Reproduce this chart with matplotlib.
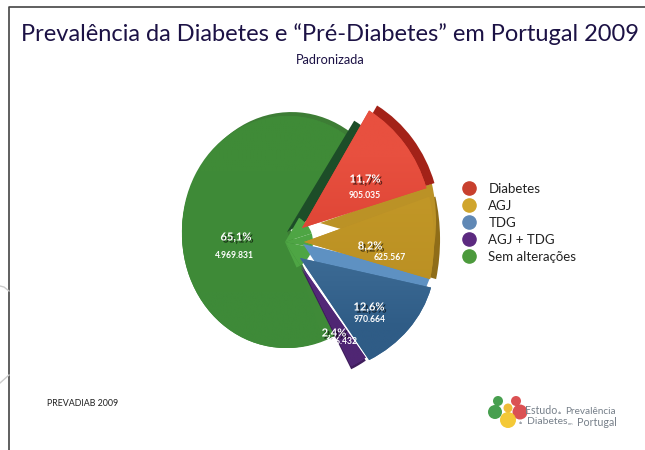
import matplotlib
matplotlib.use("Agg")
import matplotlib.pyplot as plt
import matplotlib.patheffects as pe
import numpy as np
from matplotlib.colors import to_rgb
from matplotlib.lines import Line2D
from matplotlib.patches import Circle
from matplotlib.transforms import Affine2D

plt.rcParams['font.family'] = ['Lato', 'DejaVu Sans']

categories = ['Diabetes', 'AGJ', 'TDG', 'AGJ + TDG', 'Sem alterações']
percent = [11.7, 8.2, 12.6, 2.4, 65.1]
percent_labels = ['11,7%', '8,2%', '12,6%', '2,4%', '65,1%']
count_labels = ['905.035', '625.567', '970.664', '186.432', '4.969.831']

legend_colors = ['#c8402e', '#d0a52c', '#6088b5', '#5c2a80', '#4c9a3c']
top_colors = ['#e0473a', '#bd9027', '#3f6d97', '#5f2f88', '#3f8a38']
side_colors = ['#a32218', '#bb9226', '#5e91c2', '#3f1d5c', '#3d7d35']
# top and bottom colour of the shading on each slice
shade_colors = [('#e8503f', '#d63c2e'), ('#c49a28', '#b88d22'), ('#4a7aa4', '#2f5c86'),
                ('#5f2f88', '#4f2673'), ('#3f8b37', '#3e8a38')]

# pixel placement of each slice: apex x, y (from bottom), x scale, y scale, rotation
place = [(302, 222, 130, 137, -1),
         (304, 208, 130, 162, -2),
         (300, 192, 135, 118, -2.5),
         (301, 185, 113, 113, 2),
         (287, 218, 105, 116, -4)]
side_place = [(310, 227, 130, 137, -1),
              (320, 227, 116, 141, -2),
              (303, 206, 132, 118, -2.5),
              (301, 182, 113, 113, 2),
              (290, 222, 105, 116, -4)]
order = [4, 2, 1, 0, 3]

label_pos = [(365, 179, 365, 195), (370, 246, 390, 257), (369, 307, 370, 319),
             (334, 333, 341, 342), (236, 237, 234, 255)]

fig = plt.figure(figsize=(6.45, 4.5), dpi=100)
ax = fig.add_axes([0, 0, 1, 1])


def place_transform(p):
    cx, cy, sx, sy, rot = p
    return Affine2D().scale(sx, sy).rotate_deg(rot).translate(cx, cy) + ax.transData


def pie_layer(colors):
    wedges, _ = ax.pie(percent, colors=colors, startangle=60, counterclock=False, frame=True)
    return wedges


sides = pie_layer(side_colors)
tops = pie_layer(top_colors)
hub = pie_layer(['#4ea544'] * 5)
extras = pie_layer(['#000000', '#8f6d18', '#000000', '#000000', '#3f8a38'])
cut = pie_layer(['#1d4d28'] * 5)

for z, i in enumerate(order):
    sides[i].set_transform(place_transform(side_place[i]))
    sides[i].set_zorder(2 + z * 2)
    tops[i].set_transform(place_transform(place[i]))
    tops[i].set_zorder(3 + z * 2)
    hub[i].set_transform(Affine2D().scale(28, 28).translate(285, 208) + ax.transData)
    hub[i].set_zorder(3.5)
    cut[i].set_visible(False)
hub[4].set_visible(False)

# dark cut face along the upper edge of the big slice
cut[1].set_visible(True)
cut[1].set_transform(place_transform((287, 218, 130, 130, 41)))
cut[1].set_zorder(3.3)
# olive edge on the right of the gold slice
extras[0].set_visible(False)
extras[1].set_transform(place_transform((310, 208, 130, 162, -2)))
extras[1].set_zorder(5.5)
extras[2].set_visible(False)
extras[3].set_visible(False)
# green reaching under the purple slice
extras[4].set_transform(place_transform((287, 218, 105, 116, 3)))
extras[4].set_zorder(2.5)

# shading clipped to each slice
for z, i in enumerate(order):
    cx, cy, sx, sy, rot = place[i]
    r = max(sx, sy) + 5
    c0, c1 = shade_colors[i]
    grad = np.array([[to_rgb(c0)], [to_rgb(c1)]])
    im = ax.imshow(grad, extent=(cx - r, cx + r, cy - r, cy + r), aspect='auto',
                   interpolation='bilinear', zorder=3.1 + z * 2)
    im.set_clip_path(tops[i])

ax.set_xlim(0, 645)
ax.set_ylim(0, 450)
ax.set_aspect('auto')
ax.axis('off')

# percent and count labels
shadow = [pe.SimplePatchShadow(offset=(1.5, -1.5), shadow_rgbFace='k', alpha=0.6), pe.Normal()]
for i in range(5):
    px, py, cx, cy = label_pos[i]
    ax.text(px, 450 - py, percent_labels[i], color='white', fontsize=8, fontweight='bold',
            ha='center', va='center', zorder=20, path_effects=shadow)
    ax.text(cx, 450 - cy, count_labels[i], color='white', fontsize=6.2, fontweight='bold',
            ha='center', va='center', zorder=20)

# title
ax.text(330, 416, 'Prevalência da Diabetes e “Pré-Diabetes” em Portugal 2009', color='#1c1245',
        fontsize=17, ha='center', va='center')
ax.text(330, 390.5, 'Padronizada', color='#1c1245', fontsize=9.2, ha='center', va='center')
ax.text(47, 46, 'PREVADIAB 2009', color='#222222', fontsize=6.4, ha='left', va='center')

# legend
handles = [Line2D([], [], ls='', marker='o', ms=9.5, mfc=c, mec=c) for c in legend_colors]
ax.legend(handles, categories, loc='center left', bbox_to_anchor=(456 / 645, 1 - 223 / 450),
          frameon=False, fontsize=9.5, labelspacing=0.38, handletextpad=0.45, borderpad=0,
          borderaxespad=0, labelcolor='#222222')

# slide frame and background arcs
ax.plot([645, 9, 9], [443, 443, 0], color='#444444', lw=1.2, zorder=1)
ax.plot([0, 9], [67, 75], color='#cccccc', lw=1, zorder=1)
ax.plot([0, 4, 9], [164, 163, 159], color='#cccccc', lw=1, zorder=1)

# logo
for (x, y, r, c) in [(495, 38, 7, '#3d9a45'), (520, 38, 7.5, '#d9484a'), (498, 49, 5, '#3d9a45'),
                     (516, 49, 5, '#d9484a'), (508, 30, 8, '#f4c62c'), (508, 42, 4.5, '#f0b92e')]:
    ax.add_patch(Circle((x, y), r, color=c, alpha=0.95, lw=0, zorder=5))
logo_color = '#77808a'
ax.text(525, 39, 'Estudo', color=logo_color, fontsize=7.6, va='center', zorder=6)
ax.text(558, 37, 'da', color=logo_color, fontsize=3, va='center', zorder=6)
ax.text(565, 39, 'Prevalência', color=logo_color, fontsize=7.2, va='center', zorder=6)
ax.text(519, 27, 'da', color=logo_color, fontsize=3, va='center', zorder=6)
ax.text(527, 28, 'Diabetes', color=logo_color, fontsize=7.5, va='center', zorder=6)
ax.text(568, 26, 'em', color=logo_color, fontsize=3, va='center', zorder=6)
ax.text(577, 28, 'Portugal', color=logo_color, fontsize=7.7, va='center', zorder=6)

fig.savefig('out.png', dpi=100)
